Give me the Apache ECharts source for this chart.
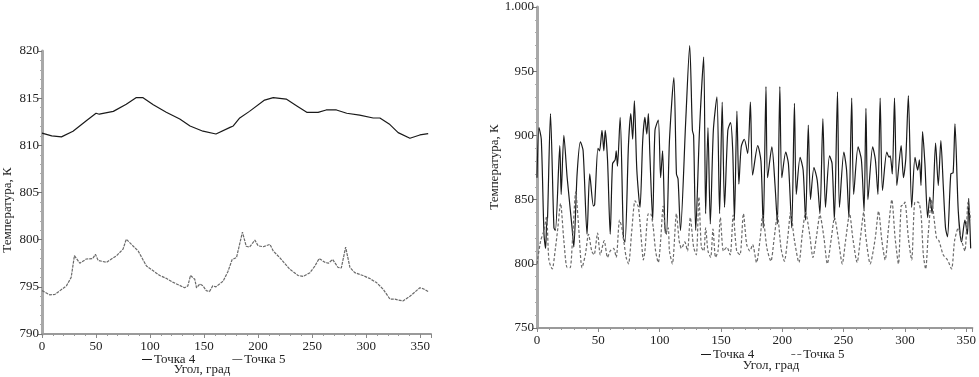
<!DOCTYPE html>
<html>
<head>
<meta charset="utf-8">
<script src="https://cdn.jsdelivr.net/npm/echarts@6/dist/echarts.min.js"></script>
<style>
html,body{margin:0;padding:0;background:#fff;}
#chart{width:979px;height:377px;}
</style>
</head>
<body>
<div id="chart"></div>
<script>
// ---- Left chart data ----
var leftAngle4 = [0, 9, 18, 28.7, 41, 50, 53, 66, 78, 87, 93.5, 103, 115, 127.5, 137, 149, 161, 174, 177, 183, 192, 206, 214, 226, 235.5, 245, 255.5, 263, 272.5, 282, 294, 306.5, 312.7, 322, 329.6, 340.5, 349.7, 357.4];
var leftTemp4  = [811.3, 811.0, 810.9, 811.5, 812.6, 813.4, 813.3, 813.6, 814.35, 815.05, 815.05, 814.3, 813.5, 812.8, 812.05, 811.5, 811.2, 811.9, 812.05, 812.9, 813.6, 814.8, 815.05, 814.9, 814.2, 813.5, 813.5, 813.75, 813.75, 813.4, 813.2, 812.9, 812.9, 812.2, 811.35, 810.75, 811.1, 811.25];

var leftAngle5 = [0, 7, 12, 22.6, 27, 30, 35, 41, 47, 49.4, 52, 59.6, 69, 75, 78, 82.8, 89, 96.7, 109, 115, 121, 132, 135, 137.4, 141.4, 143, 146, 149, 152, 155, 158, 161, 167.6, 172, 176, 180, 185.5, 189, 192, 197, 200, 204.6, 211, 214, 220, 229, 237, 241.7, 248, 252.5, 256.5, 261.8, 265, 269, 274, 277, 281, 285, 289.5, 297, 303, 309.6, 315.7, 322, 326.6, 329.7, 334, 340.5, 349.7, 352.8, 357.4];
var leftTemp5  = [794.6, 794.15, 794.2, 795.1, 796.0, 798.3, 797.5, 797.95, 798.0, 798.45, 797.8, 797.6, 798.3, 799.0, 800.05, 799.5, 798.8, 797.2, 796.2, 795.9, 795.5, 794.9, 795.1, 796.2, 795.8, 794.9, 795.3, 795.1, 794.6, 794.5, 795.1, 795.0, 795.6, 796.6, 797.9, 798.1, 800.8, 799.3, 799.2, 799.95, 799.35, 799.25, 799.5, 798.8, 798.1, 796.9, 796.2, 796.1, 796.5, 797.2, 798.0, 797.6, 797.5, 797.9, 797.05, 797.0, 799.2, 797.05, 796.5, 796.2, 795.9, 795.45, 794.75, 793.7, 793.7, 793.6, 793.5, 794.0, 794.9, 794.8, 794.5];

// ---- Right chart data ----
var rightAngle4 = [0, 1.6, 3.5, 5.7, 7, 7.8, 8.6, 11, 13.8, 15, 18.6, 19.7, 21.9, 24.6, 28.6, 30, 32.7, 35.4, 37.6, 40.8, 43, 46, 47, 49.7, 51, 53, 54.5, 55.6, 57.5, 59.7, 61.6, 63.7, 64.6, 65.6, 67.8, 70.5, 71.8, 74.6, 76.5, 78, 79.4, 81.4, 84, 86.2, 88, 89.5, 90.8, 92, 94.3, 96.2, 98.9, 100.8, 102.4, 104.3, 105.6, 108, 111.6, 113.7, 115, 117, 121.3, 124.5, 126.7, 127.7, 129.4, 132.5, 135.9, 137.5, 139.4, 141.3, 143.8, 146.7, 148.9, 151, 152.9, 155.6, 157.8, 159.6, 161, 163, 164.6, 166.5, 169, 171.8, 174, 175.8, 180, 182.6, 184.5, 186.7, 188, 191.5, 194.1, 196, 198, 199.6, 202.8, 205, 207.7, 209.9, 211.4, 214.5, 217, 219, 221.2, 223, 225.8, 228.5, 230.7, 233.1, 235.2, 238.5, 240.6, 242.5, 245, 246.6, 250.2, 252.4, 254.3, 256.6, 258.2, 261.8, 264.5, 266.7, 268.2, 269.8, 273.7, 275.9, 278, 279.8, 281.7, 285.2, 287.1, 288, 289.7, 291.5, 293.4, 296.9, 298.8, 300.7, 302.8, 305.5, 308.2, 310.4, 311.8, 313.1, 314.4, 316.3, 318.5, 320.3, 322.2, 325, 327.2, 329.3, 331.2, 333.1, 334.7, 337.4, 339.3, 340.8, 343.5, 346.2, 348.9, 351, 352, 353.6];
var rightTemp4  = [867, 906, 897, 823, 812, 830, 836, 917, 828, 826, 892, 854, 900, 867, 828, 813, 870, 895, 888, 823, 870, 845, 846, 890, 888, 904, 888, 904, 881, 823, 878, 881, 888, 876, 914, 820, 817, 893, 917, 897, 927, 873, 844, 896, 914, 901, 917, 886, 834, 904, 912, 867, 888, 828, 823, 896, 945, 870, 866, 826, 912, 970, 904, 900, 826, 904, 961, 839, 906, 831, 904, 930, 839, 926, 844, 904, 910, 888, 834, 919, 862, 891, 897, 886, 926, 869, 892, 880, 828, 938, 867, 891, 861, 831, 938, 867, 887, 878, 828, 925, 854, 883, 873, 834, 908, 850, 875, 865, 839, 913, 844, 884, 878, 834, 934, 844, 887, 873, 836, 929, 854, 891, 881, 841, 921, 850, 891, 881, 854, 929, 857, 887, 883, 884, 870, 929, 861, 892, 867, 882, 931, 844, 883, 873, 881, 861, 903, 878, 836, 852, 839, 894, 861, 896, 862, 828, 821, 870, 871, 909, 841, 817, 834, 823, 851, 812];

var rightAngle5 = [0, 3, 5.7, 7.8, 9.7, 12.4, 15, 17, 19.2, 21.9, 24.6, 27, 29, 31.6, 34, 36.7, 39.4, 42, 44.6, 46.5, 49.4, 51.6, 54.8, 57.5, 59.7, 62.4, 64.6, 67.3, 69.2, 72.7, 74.6, 77.3, 80, 82.7, 85.4, 86.7, 88, 90.8, 92.6, 94.8, 96.7, 98.9, 100.8, 102.9, 105, 107, 108, 110.4, 113.7, 115.9, 117.8, 120.5, 122.7, 125, 127.7, 129.9, 132, 134, 136, 137.5, 139.4, 141.6, 143.5, 145.6, 147.6, 149.5, 152, 154.8, 157.5, 160, 162.8, 165.5, 168.3, 171, 173.6, 175.8, 179, 182, 184, 187.5, 190.7, 193.4, 196, 199, 201.7, 204.4, 206.9, 209.6, 213.6, 216.3, 219, 222.3, 225, 227.7, 230.7, 234, 236.7, 240, 242.6, 245.6, 248.9, 251.6, 254.9, 257.5, 261, 263.7, 266.4, 268, 271.7, 275.8, 278.5, 281.2, 283.9, 286.6, 289.3, 292, 294.7, 296.9, 298.8, 300, 302.8, 305.5, 308.2, 310.9, 313.1, 315, 316.9, 319, 321.7, 323.9, 325.8, 327.7, 331.2, 334.7, 338, 340.5, 343.5, 346.2, 348.9, 351.5, 353.6];
var rightTemp5  = [800, 818, 826, 837, 803, 796, 812, 828, 847, 818, 797, 797, 820, 856, 828, 797, 807, 823, 810, 807, 824, 807, 818, 805, 810, 812, 805, 834, 828, 805, 800, 826, 849, 844, 815, 803, 810, 839, 839, 828, 810, 801, 818, 845, 823, 828, 810, 800, 839, 818, 812, 817, 810, 836, 813, 807, 852, 813, 810, 828, 810, 805, 827, 805, 810, 836, 810, 813, 807, 838, 810, 807, 839, 815, 810, 815, 801, 820, 838, 812, 802, 820, 838, 812, 802, 820, 841, 820, 801, 823, 840, 823, 805, 820, 838, 820, 800, 820, 836, 820, 800, 818, 839, 820, 801, 820, 840, 822, 800, 820, 841, 818, 803, 828, 850, 820, 800, 845, 846, 848, 820, 803, 848, 848, 839, 807, 796, 823, 850, 834, 820, 818, 807, 803, 796, 818, 828, 818, 810, 848, 834];

// ---- Axis ticks ----
var leftYTicks = [790, 795, 800, 805, 810, 815, 820];
var leftXTicks = [0, 50, 100, 150, 200, 250, 300, 350];
var rightYTicks = [750, 800, 850, 900, 950, 1000];
var rightXTicks = [0, 50, 100, 150, 200, 250, 300, 350];

var seriesNames = ['Точка 4', 'Точка 5'];
var xTitle = 'Угол, град';
var yTitle = 'Температура, К';

function zip(a, b) { return a.map(function (v, i) { return [v, b[i]]; }); }

var FONT = '"Liberation Serif", "DejaVu Serif", serif';
var chart = echarts.init(document.getElementById('chart'), null, {renderer: 'canvas'});

function xAxis(grid, max) {
  return {
    type: 'value', gridIndex: grid, min: 0, max: max, interval: 50,
    axisLine: {onZero: false, lineStyle: {color: '#9a9a9a', width: 2}},
    axisTick: {length: 4, lineStyle: {color: '#888'}},
    minorTick: {show: true, splitNumber: 5, length: 2, lineStyle: {color: '#999'}},
    splitLine: {show: false},
    axisLabel: {color: '#222', fontFamily: FONT, fontSize: 13, margin: 6}
  };
}
function yAxis(grid, min, max, interval, fmt) {
  return {
    type: 'value', gridIndex: grid, min: min, max: max, interval: interval,
    axisLine: {show: true, onZero: false, lineStyle: {color: '#a8a8a8', width: 3}},
    axisTick: {show: true, length: 4, lineStyle: {color: '#777'}},
    minorTick: {show: true, splitNumber: 5, length: 2, lineStyle: {color: '#aaa'}},
    splitLine: {show: false},
    axisLabel: {color: '#222', fontFamily: FONT, fontSize: 13, margin: 3, formatter: fmt}
  };
}

var solidIcon = 'path://M0,0H10V1H0Z';
var dashIcon = 'path://M0,0H4V1H0Z M6,0H10V1H6Z';
function legendData(iconB) {
  return [{name: seriesNames[0], icon: solidIcon}, {name: seriesNames[1], icon: iconB}];
}

var option = {
  animation: false,
  backgroundColor: '#fff',
  grid: [
    {left: 42, top: 51, width: 389, height: 283},
    {left: 537, top: 7, width: 439, height: 321}
  ],
  xAxis: [xAxis(0, 360), xAxis(1, 355)],
  yAxis: [
    yAxis(0, 790, 820, 5),
    yAxis(1, 750, 1000, 50, function (v) { return v === 1000 ? '1.000' : String(v); })
  ],
  legend: [
    {left: 137, top: 348, itemWidth: 10, itemHeight: 1.5, itemGap: 37, data: legendData(solidIcon),
     textStyle: {color: '#222', fontFamily: FONT, fontSize: 13, padding: [0, 0, 0, -3]}},
    {left: 696, top: 343, itemWidth: 10, itemHeight: 1.5, itemGap: 37, data: legendData(dashIcon),
     textStyle: {color: '#222', fontFamily: FONT, fontSize: 13, padding: [0, 0, 0, -3]}}
  ],
  graphic: [
    {type: 'text', x: 202, y: 370, style: {text: xTitle, font: '13px ' + FONT, fill: '#222', align: 'center', verticalAlign: 'middle'}},
    {type: 'text', x: 771, y: 366, style: {text: xTitle, font: '13px ' + FONT, fill: '#222', align: 'center', verticalAlign: 'middle'}},
    {type: 'text', x: 8, y: 210, rotation: Math.PI / 2, style: {text: yTitle, font: '13px ' + FONT, fill: '#222', align: 'center', verticalAlign: 'middle'}},
    {type: 'text', x: 495, y: 167, rotation: Math.PI / 2, style: {text: yTitle, font: '13px ' + FONT, fill: '#222', align: 'center', verticalAlign: 'middle'}}
  ],
  series: [
    {name: seriesNames[0], type: 'line', xAxisIndex: 0, yAxisIndex: 0, symbol: 'none',
     data: zip(leftAngle4, leftTemp4), lineStyle: {color: '#1a1a1a', width: 1.2}, itemStyle: {color: '#1a1a1a'}},
    {name: seriesNames[1], type: 'line', xAxisIndex: 0, yAxisIndex: 0, symbol: 'none',
     data: zip(leftAngle5, leftTemp5), lineStyle: {color: '#6a6a6a', width: 1.2, type: [3, 1]}, itemStyle: {color: '#6a6a6a'}},
    {name: seriesNames[0], type: 'line', xAxisIndex: 1, yAxisIndex: 1, symbol: 'none', smooth: 0.25,
     data: zip(rightAngle4, rightTemp4), lineStyle: {color: '#1a1a1a', width: 1.2}, itemStyle: {color: '#1a1a1a'}},
    {name: seriesNames[1], type: 'line', xAxisIndex: 1, yAxisIndex: 1, symbol: 'none', smooth: 0.25,
     data: zip(rightAngle5, rightTemp5), lineStyle: {color: '#6a6a6a', width: 1.2, type: [3, 2]}, itemStyle: {color: '#6a6a6a'}}
  ]
};
chart.setOption(option);
</script>
</body>
</html>
